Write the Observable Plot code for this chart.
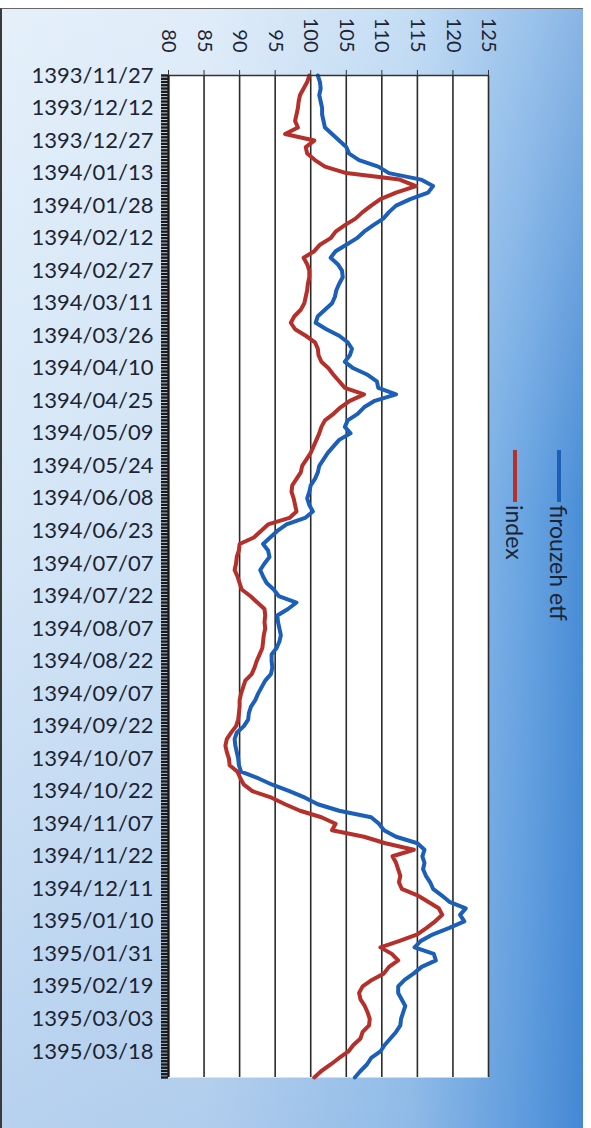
<!DOCTYPE html>
<html>
<head>
<meta charset="utf-8">
<script src="https://cdn.jsdelivr.net/npm/d3@7"></script>
<script src="https://cdn.jsdelivr.net/npm/@observablehq/plot@0.6"></script>
<style>
html, body { margin: 0; padding: 0; background: #fff; }
#wrap { position: relative; width: 591px; height: 1128px; overflow: hidden; background: #fff; }
#bg {
  position: absolute; left: 0; top: 8px; width: 583px; height: 1120px;
  box-sizing: border-box; border-left: 2px solid #3a3a3a; border-top: 1.5px solid #666;
  background:
    linear-gradient(180deg, rgba(255,255,255,0.35) 0%, rgba(255,255,255,0) 45%, rgba(40,110,200,0.18) 100%),
    linear-gradient(90deg, #d6e7f7 0%, #cfe2f5 35%, #a6cbee 70%, #6aa5e2 90%, #4a8dd6 100%);
}
#chart { position: absolute; left: 0; top: 0; }
#legend {
  position: absolute; left: 571px; top: 450px;
  transform: rotate(90deg); transform-origin: 0 0;
  font-family: Lato, "Open Sans", sans-serif; font-size: 23px; color: #1c2433;
}
#legend .row { display: flex; align-items: center; height: 24px; margin-bottom: 20px; white-space: nowrap; }
#legend .sw { width: 52px; height: 4px; margin-right: 3px; }
</style>
</head>
<body>
<div id="wrap">
  <div id="bg"></div>
  <div id="chart"></div>
  <div id="legend"></div>
</div>
<script>
// Tick labels of the category (date) axis, one every 10 trading days
const dateLabels = [
  "1393/11/27", "1393/12/12", "1393/12/27", "1394/01/13", "1394/01/28",
  "1394/02/12", "1394/02/27", "1394/03/11", "1394/03/26", "1394/04/10",
  "1394/04/25", "1394/05/09", "1394/05/24", "1394/06/08", "1394/06/23",
  "1394/07/07", "1394/07/22", "1394/08/07", "1394/08/22", "1394/09/07",
  "1394/09/22", "1394/10/07", "1394/10/22", "1394/11/07", "1394/11/22",
  "1394/12/11", "1395/01/10", "1395/01/31", "1395/02/19", "1395/03/03",
  "1395/03/18"
];
const labelEvery = 10;      // trading days between date labels
const lastDay = 308;        // last trading-day index on the axis
const sampleStep = 2;       // values below are read every 2nd trading day
const xTicks = [80, 85, 90, 95, 100, 105, 110, 115, 120, 125];

const seriesNames = ["firouzeh etf", "index"];
const seriesColors = ["#1b5fb8", "#b5302a"];

// firouzeh etf (blue)
const etfValues = [
  101.0, 101.3, 101.4, 101.2, 101.4, 101.6, 101.6, 101.8, 102.0, 103.0,
  104.0, 105.0, 105.4, 106.8, 109.5, 111.0, 115.5, 117.2, 116.5, 114.0,
  112.0, 111.0, 110.2, 108.8, 107.5, 106.5, 105.0, 103.5, 102.8, 103.8,
  104.4, 104.5, 104.0, 103.6, 103.4, 103.0, 102.0, 101.0, 100.7, 102.2,
  104.0, 105.2, 105.8, 105.5, 104.8, 106.0, 108.0, 109.3, 109.5, 112.0,
  109.0, 107.5, 106.6, 105.2, 104.8, 105.6, 104.0, 103.2, 102.4, 101.8,
  101.2, 101.0, 100.6, 100.0, 99.8, 99.5, 99.8, 100.3, 99.2, 96.6,
  95.3, 94.3, 93.3, 94.0, 94.2, 93.5, 92.9, 93.3, 93.8, 94.8,
  95.5, 98.0, 96.8, 95.3, 95.4, 95.6, 95.8, 95.6, 95.2, 94.5,
  94.5, 94.6, 94.4, 93.6, 93.1, 92.6, 92.2, 91.6, 91.3, 91.2,
  90.6, 89.6, 89.3, 89.4, 89.6, 89.8, 89.9, 90.2, 92.6, 94.6,
  97.0, 99.2, 101.0, 104.0, 108.5, 109.6, 110.3, 112.0, 115.0, 116.0,
  115.7, 116.0, 115.8, 116.2, 116.8, 117.2, 118.4, 119.5, 121.8, 121.0,
  121.6, 119.5, 117.2, 115.5, 114.6, 117.3, 117.6, 115.6, 114.5, 113.2,
  112.3, 112.3, 112.8, 113.3, 113.0, 112.7, 112.6, 112.0, 111.2, 110.4,
  109.8, 108.5, 107.9, 107.0, 106.2
];

// index (red)
const indexValues = [
  99.8, 99.5, 99.0, 98.5, 98.3, 98.2, 98.0, 97.8, 98.2, 96.4,
  100.5, 99.3, 99.5, 100.6, 102.0, 105.0, 112.5, 114.8, 112.0, 109.8,
  108.5, 107.3, 106.3, 104.8, 103.5, 102.8, 101.3, 100.5, 99.0, 99.5,
  99.8, 99.8, 99.6, 99.5, 99.3, 99.1, 98.6, 97.7, 97.2, 97.8,
  99.3, 100.6, 101.0, 101.1, 101.5, 102.5, 103.2, 104.0, 104.8, 107.5,
  105.5, 104.2, 103.2, 102.0, 101.5, 101.2, 100.8, 100.4, 100.0, 99.4,
  98.8, 98.6, 98.0, 97.4, 97.3, 97.6, 97.8, 98.0, 97.0, 94.0,
  93.0, 92.0, 90.0, 89.9, 89.6, 89.5, 89.3, 89.7, 90.0, 90.3,
  91.5, 92.5, 93.5, 93.6, 93.5, 93.6, 93.4, 93.3, 93.2, 92.8,
  92.4, 92.1, 91.7, 90.8, 90.5, 90.2, 90.0, 90.0, 89.9, 89.8,
  89.5, 88.8, 88.2, 88.0, 88.2, 88.5, 88.6, 89.7, 90.1, 90.6,
  91.8, 94.5, 96.4, 98.5, 101.5, 103.5, 103.0, 107.5, 110.5, 114.5,
  111.5, 112.0, 112.3, 112.6, 112.4, 112.8, 115.0, 116.5, 118.0, 118.5,
  117.5, 116.3, 115.0, 112.5, 109.8, 111.4, 112.3, 111.0, 110.3, 108.6,
  107.3, 106.8, 107.0, 107.6, 108.0, 108.3, 108.2, 107.3, 107.0, 106.0,
  105.3, 104.0, 102.8, 101.5, 100.5
];

const rows = [];
etfValues.forEach((v, i) => rows.push({ series: seriesNames[0], day: i * sampleStep, value: v }));
indexValues.forEach((v, i) => rows.push({ series: seriesNames[1], day: i * sampleStep, value: v }));

const labelDays = dateLabels.map((d, i) => i * labelEvery);
const allDays = d3.range(0, lastDay + 1);

const font = "Lato, 'Open Sans', sans-serif";

const chart = Plot.plot({
  width: 591,
  height: 1128,
  marginLeft: 168,
  marginRight: 103,
  marginTop: 75,
  marginBottom: 51,
  style: { background: "transparent", fontFamily: font, color: "#1c2433", overflow: "visible" },
  x: { domain: [xTicks[0], xTicks[xTicks.length - 1]], axis: null },
  y: { domain: [0, lastDay], reverse: true, axis: null },
  color: { domain: seriesNames, range: seriesColors },
  marks: [
    Plot.frame({ fill: "white", stroke: null }),
    Plot.gridX(xTicks, { stroke: "#2b2b2b", strokeOpacity: 1, strokeWidth: 1.6 }),
    Plot.line(rows, { x: "value", y: "day", z: "series", stroke: "series", strokeWidth: 4, strokeLinejoin: "round", strokeLinecap: "round" }),
    Plot.ruleY([0], { stroke: "#333", strokeWidth: 1.6 }),
    Plot.ruleX([xTicks[0]], { stroke: "#1a1a1a", strokeWidth: 2 }),
    Plot.axisX(xTicks, { anchor: "top", tickSize: 6, tickPadding: 17, tickRotate: 90, fontSize: 20, label: null, stroke: "#333" }),
    Plot.axisY(allDays, { anchor: "left", tickSize: 7, tickFormat: () => "", label: null, stroke: "#1a1a1a", strokeWidth: 2.4 }),
    Plot.axisY(labelDays, { anchor: "left", tickSize: 0, tickPadding: 15, tickFormat: d => dateLabels[d / labelEvery], label: null, fontSize: 22 })
  ]
});
document.getElementById("chart").appendChild(chart);

const legend = document.getElementById("legend");
seriesNames.forEach((name, i) => {
  const row = document.createElement("div");
  row.className = "row";
  const sw = document.createElement("div");
  sw.className = "sw";
  sw.style.background = seriesColors[i];
  const tx = document.createElement("span");
  tx.textContent = name;
  row.appendChild(sw);
  row.appendChild(tx);
  legend.appendChild(row);
});
</script>
</body>
</html>
